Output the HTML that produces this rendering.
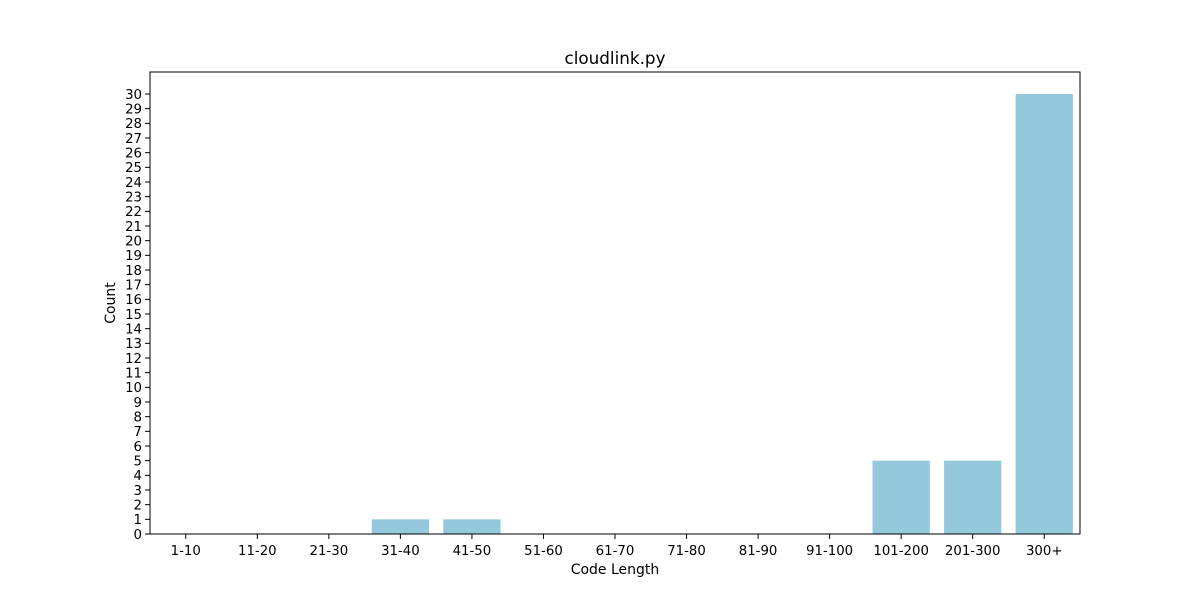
<!DOCTYPE html>
<html><head><meta charset="utf-8"><style>
html,body{margin:0;padding:0;background:#fff;}
svg text{font-family:"DejaVu Sans","Liberation Sans",sans-serif;fill:#000;}
</style></head><body>
<svg id="chart" width="1200" height="600" xmlns="http://www.w3.org/2000/svg">
<rect width="1200" height="600" fill="#fff"/>
<text x="615" y="64" font-size="16.8" text-anchor="middle">cloudlink.py</text>
<text x="615" y="574" font-size="14" text-anchor="middle">Code Length</text>
<text transform="translate(115,303) rotate(-90)" font-size="14" text-anchor="middle">Count</text>
<g id="bars"></g>
<g id="xticks"></g>
<g id="yticks"></g>
<rect x="150" y="72" width="930" height="462" fill="none" stroke="#000" stroke-width="1"/>
</svg>
<script>
const categories = ["1-10","11-20","21-30","31-40","41-50","51-60","61-70","71-80","81-90","91-100","101-200","201-300","300+"];
const counts = [0,0,0,1,1,0,0,0,0,0,5,5,30];
const yTicks = [0,1,2,3,4,5,6,7,8,9,10,11,12,13,14,15,16,17,18,19,20,21,22,23,24,25,26,27,28,29,30];

const L=150,R=1080,T=72,B=534,yMax=31.5;
const NS="http://www.w3.org/2000/svg";
const step=(R-L)/categories.length;
const xc=i=>L+step*(i+0.5);
const y=v=>B-(v/yMax)*(B-T);

const bars=document.getElementById('bars');
const xt=document.getElementById('xticks');
const yt=document.getElementById('yticks');

counts.forEach((v,i)=>{
  const r=document.createElementNS(NS,'rect');
  r.setAttribute('x',xc(i)-step*0.4);
  r.setAttribute('width',step*0.8);
  r.setAttribute('y',y(v));
  r.setAttribute('height',B-y(v));
  r.setAttribute('fill','#95c8dd');
  
  
  bars.appendChild(r);
});
categories.forEach((c,i)=>{
  const l=document.createElementNS(NS,'line');
  l.setAttribute('x1',xc(i));l.setAttribute('x2',xc(i));
  l.setAttribute('y1',B);l.setAttribute('y2',B+5);
  l.setAttribute('stroke','#000');
  
  
  xt.appendChild(l);
  const t=document.createElementNS(NS,'text');
  t.setAttribute('x',xc(i));t.setAttribute('y',B+21);
  t.setAttribute('font-size','13.3');t.setAttribute('text-anchor','middle');
  t.textContent=c;
  
  
  xt.appendChild(t);
});
yTicks.forEach(v=>{
  const l=document.createElementNS(NS,'line');
  l.setAttribute('x1',L-5);l.setAttribute('x2',L);
  l.setAttribute('y1',y(v));l.setAttribute('y2',y(v));
  l.setAttribute('stroke','#000');
  
  
  yt.appendChild(l);
  const t=document.createElementNS(NS,'text');
  t.setAttribute('x',L-8);t.setAttribute('y',y(v)+4.8);
  t.setAttribute('font-size','13.3');t.setAttribute('text-anchor','end');
  t.textContent=v;
  
  
  yt.appendChild(t);
});
</script>
</body></html>
